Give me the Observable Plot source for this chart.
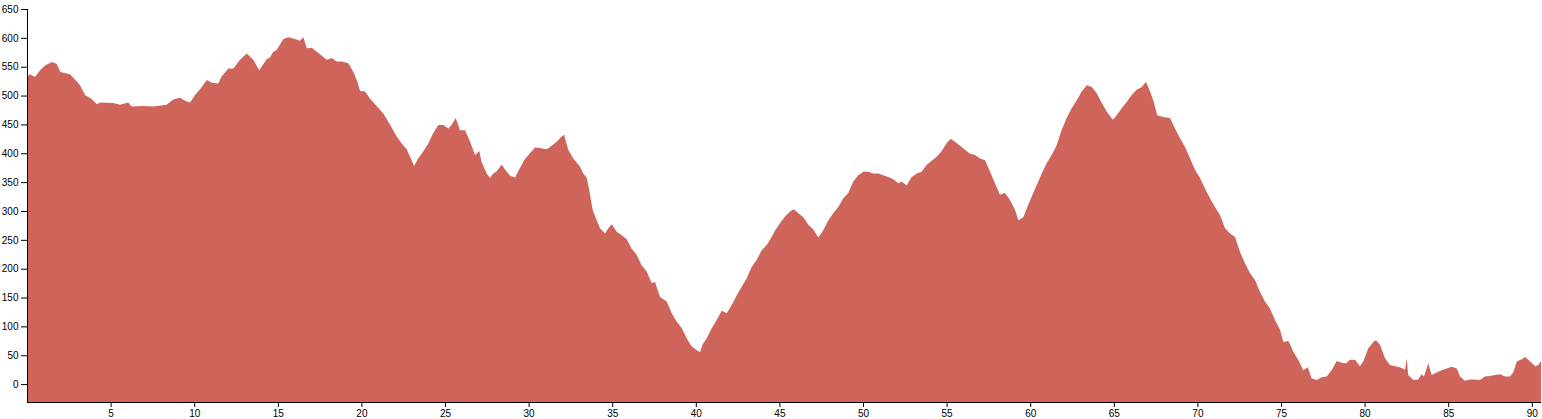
<!DOCTYPE html>
<html>
<head>
<meta charset="utf-8">
<script src="https://cdn.jsdelivr.net/npm/d3@7"></script>
<script src="https://cdn.jsdelivr.net/npm/@observablehq/plot@0.6"></script>
<style>
  html, body { margin: 0; padding: 0; background: #fff; }
  #chart svg { display: block; }
</style>
</head>
<body>
<div id="chart"></div>
<script>
// Distance along the route (km)
const distanceKm = [
  0, 0.18, 0.48, 0.78, 1.08, 1.48, 1.77, 2.0, 2.57, 2.87, 3.17, 3.47, 3.87, 4.17, 4.37,
  5.16, 5.56, 6.06, 6.26, 6.96, 7.56, 8.35, 8.75, 9.15, 9.45, 9.75, 10.05, 10.35, 10.75,
  11.05, 11.44, 11.64, 12.04, 12.34, 12.74, 13.14, 13.53, 13.89, 14.33, 14.53, 14.73, 14.93,
  15.33, 15.63, 16.03, 16.33, 16.53, 16.73, 17.03, 17.33, 17.63, 17.92, 18.22, 18.52, 18.82,
  19.22, 19.52, 19.76, 19.92, 20.22, 20.51, 20.91, 21.31, 21.71, 22.11, 22.41, 22.71, 22.91,
  23.15, 23.4, 23.7, 24.0, 24.3, 24.6, 24.9, 25.2, 25.4, 25.64, 25.9, 26.2, 26.5, 26.8,
  27.05, 27.19, 27.49, 27.69, 27.89, 28.09, 28.39, 28.69, 28.89, 29.19, 29.49, 29.78, 30.08,
  30.38, 30.68, 31.08, 31.38, 31.68, 31.98, 32.12, 32.37, 32.67, 33.07, 33.27, 33.47, 33.63,
  33.83, 34.07, 34.27, 34.57, 34.77, 34.97, 35.27, 35.57, 35.87, 36.16, 36.46, 36.76, 37.06,
  37.36, 37.56, 37.86, 38.26, 38.56, 38.86, 39.16, 39.46, 39.76, 40.05, 40.25, 40.41, 40.65,
  40.95, 41.25, 41.55, 41.85, 42.15, 42.45, 42.75, 43.04, 43.34, 43.64, 43.94, 44.24, 44.54,
  44.74, 45.04, 45.33, 45.63, 45.87, 46.13, 46.43, 46.73, 47.03, 47.33, 47.63, 47.93, 48.22,
  48.52, 48.82, 49.12, 49.42, 49.72, 50.02, 50.32, 50.62, 50.92, 51.21, 51.51, 51.81, 52.11,
  52.31, 52.61, 52.91, 53.21, 53.51, 53.81, 54.11, 54.41, 54.71, 55.01, 55.25, 55.5, 55.8,
  56.1, 56.4, 56.7, 57.0, 57.3, 57.6, 57.89, 58.19, 58.49, 58.79, 59.09, 59.29, 59.59, 59.83,
  60.09, 60.39, 60.69, 60.99, 61.29, 61.58, 61.88, 62.18, 62.48, 62.78, 63.08, 63.38, 63.68,
  63.98, 64.28, 64.58, 64.94, 65.17, 65.47, 65.77, 66.07, 66.37, 66.67, 66.93, 67.17, 67.36,
  67.6, 67.96, 68.36, 68.66, 68.96, 69.26, 69.56, 69.86, 70.16, 70.45, 70.75, 71.05, 71.35,
  71.65, 71.95, 72.25, 72.55, 72.85, 73.15, 73.45, 73.74, 74.04, 74.34, 74.64, 74.94, 75.14,
  75.44, 75.74, 76.03, 76.33, 76.6, 76.83, 77.13, 77.43, 77.73, 78.03, 78.33, 78.63, 78.89,
  79.13, 79.43, 79.72, 79.92, 80.22, 80.52, 80.68, 80.92, 81.22, 81.52, 81.82, 82.12, 82.42,
  82.52, 82.61, 82.91, 83.21, 83.41, 83.55, 83.81, 84.01, 84.31, 84.61, 84.91, 85.21, 85.51,
  85.71, 86.0, 86.3, 86.6, 86.9, 87.2, 87.5, 87.8, 88.1, 88.4, 88.7, 88.9, 89.1, 89.4, 89.6,
  89.9, 90.2, 90.4, 90.55
];

// Elevation (m)
const elevationM = [
  532, 537, 532, 544, 552, 558, 555, 541, 537, 528, 518, 501, 494, 485, 488,
  487, 484, 488, 481, 482, 481, 484, 493, 496, 491, 488, 501, 511, 527,
  522, 521, 533, 547, 547, 562, 573, 562, 544, 563, 566, 576, 579,
  598, 601, 598, 595, 601, 582, 583, 576, 569, 562, 565, 559, 559,
  556, 541, 524, 508, 507, 495, 482, 469, 450, 429, 417, 407, 394,
  378, 391, 403, 417, 435, 449, 449, 443, 449, 461, 440, 440, 420, 397,
  404, 385, 365, 357, 365, 369, 380, 368, 361, 358, 375, 390, 400,
  410, 409, 407, 413, 420, 429, 432, 406, 391, 377, 365, 358, 336,
  302, 284, 270, 261, 270, 277, 264, 258, 251, 235, 224, 206, 195,
  175, 177, 151, 143, 123, 108, 97, 79, 65, 59, 55, 69, 79,
  97, 111, 127, 123, 137, 154, 169, 183, 203, 215, 232, 241, 255,
  266, 279, 290, 299, 303, 296, 289, 276, 268, 254, 267, 284, 296,
  307, 322, 331, 351, 362, 368, 368, 365, 365, 362, 359, 355, 348,
  351, 344, 359, 365, 368, 380, 387, 394, 404, 418, 425, 420, 413,
  406, 399, 397, 391, 388, 368, 348, 328, 331, 319, 302, 284, 289, 307,
  325, 345, 365, 383, 397, 414, 440, 461, 478, 492, 507, 518, 515,
  504, 487, 472, 458, 466, 478, 489, 501, 510, 515, 524, 507, 492,
  466, 463, 461, 443, 426, 411, 391, 371, 357, 339, 322, 307, 293,
  270, 261, 255, 229, 209, 192, 180, 160, 143, 131, 111, 94, 73,
  75, 56, 42, 24, 29, 10, 7, 12, 13, 24, 40, 37, 36,
  42, 42, 31, 39, 62, 73, 76, 68, 45, 33, 31, 29, 25,
  45, 16, 7, 8, 17, 13, 36, 16, 20, 24, 27, 30, 27,
  13, 6, 8, 8, 7, 13, 14, 16, 17, 13, 13, 21, 39, 43, 47,
  39, 31, 33, 40
];

const xTicks = [5, 10, 15, 20, 25, 30, 35, 40, 45, 50, 55, 60, 65, 70, 75, 80, 85, 90];
const yTicks = [0, 50, 100, 150, 200, 250, 300, 350, 400, 450, 500, 550, 600, 650];
const xDomain = [0, 90.55];
const yDomain = [-31, 650];

const profile = distanceKm.map((d, i) => ({km: d, ele: elevationM[i]}));

const chart = Plot.plot({
  width: 1542,
  height: 419,
  marginLeft: 27,
  marginRight: 1,
  marginTop: 9,
  marginBottom: 17,
  style: {fontFamily: "'Liberation Sans', Arial, sans-serif", fontSize: "10px", color: "#000", background: "#fff"},
  x: {domain: xDomain},
  y: {domain: yDomain},
  marks: [
    Plot.areaY(profile, {x: "km", y1: yDomain[0], y2: "ele", fill: "#ce645a", curve: "linear"}),
    Plot.ruleX([xDomain[0]], {stroke: "#000"}),
    Plot.ruleY([yDomain[0]], {stroke: "#000"}),
    Plot.axisY({ticks: yTicks, tickSize: 6, tickPadding: 3, label: null}),
    Plot.axisX({ticks: xTicks, tickSize: 5, tickPadding: 2, label: null})
  ]
});
document.getElementById("chart").appendChild(chart);
</script>
</body>
</html>
